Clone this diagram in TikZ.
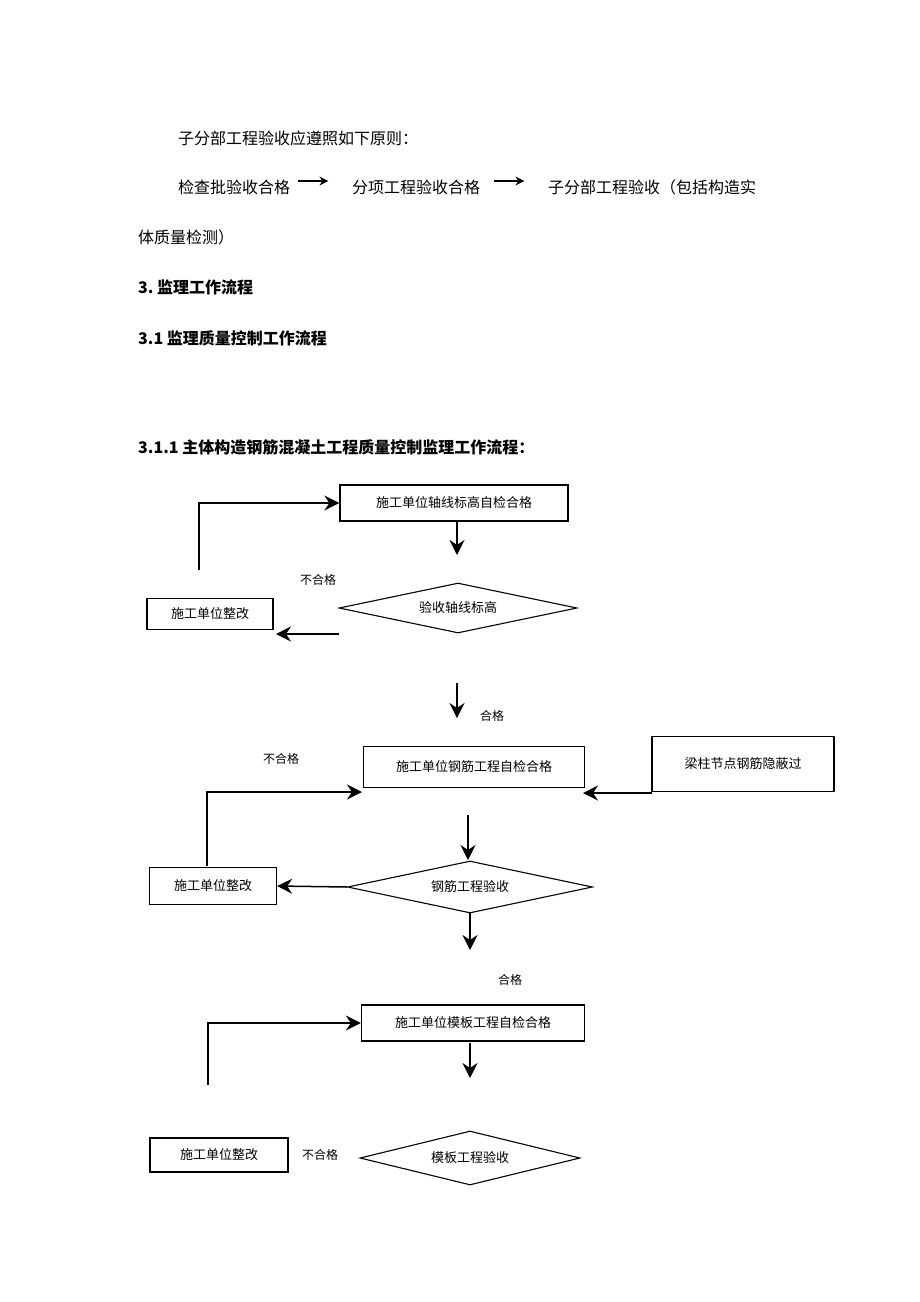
\documentclass[tikz,border=0pt]{standalone}
\usepackage{fontspec}
\setmainfont{Liberation Serif}
\newfontfamily\cjk{Noto Sans CJK SC}
\usetikzlibrary{arrows.meta}
\usetikzlibrary{shapes.geometric}

\tikzset{
	txt/.style={anchor=west,inner sep=0pt,font=\cjk\fontsize{16}{18}\selectfont},
	hd/.style={txt,font=\cjk\bfseries\fontsize{16}{18}\selectfont},
	box/.style={draw,line width=1.3pt,inner sep=0pt,font=\cjk\fontsize{13}{15}\selectfont},
	dia/.style={draw,line width=1.1pt,diamond,aspect=4.6,inner sep=0pt,font=\cjk\fontsize{13}{15}\selectfont},
	lbl/.style={inner sep=0pt,font=\cjk\fontsize{12}{14}\selectfont},
	arr/.style={-{Stealth[length=15pt,width=15pt,inset=5pt]},line width=1.5pt},
	sarr/.style={-{Stealth[length=9pt,width=9pt]},line width=1.5pt},
}

\begin{document}
\begin{tikzpicture}[x=1pt,y=-1pt]
	\useasboundingbox (0,0) rectangle (920,1302);
\node[txt] (t1) at (178,138) {子分部工程验收应遵照如下原则：};
\node[txt] (t2) at (178,187) {检查批验收合格};
\node[txt] (t3) at (352,187) {分项工程验收合格};
\node[txt] (t4) at (548,187) {子分部工程验收（包括构造实};
\draw[sarr] (t2.east) ++(8,-6) coordinate (a1) -- ++(30,0);
\draw[sarr] (t3.east) ++(14,-6) coordinate (a2) -- ++(30,0);
\node[txt] (t5) at (138,237) {体质量检测）};
\node[hd] (h1) at (138,287) {3.~监理工作流程};
\node[hd] (h2) at (138,338) {3.1 监理质量控制工作流程};
\node[hd] (h3) at (138,447) {3.1.1 主体构造钢筋混凝土工程质量控制监理工作流程：};
	% first stage
	\node[box,minimum width=228,minimum height=36] (b1) at (454,503) {施工单位轴线标高自检合格};
	\node[dia,minimum width=238,minimum height=50] (d1) at (458,608) {验收轴线标高};
	\node[box,minimum width=126,minimum height=31] (r1) at (210,614) {施工单位整改};
	\coordinate (c1) at (199,570);
	\draw[arr] (c1) |- (b1.west);
	\draw[arr] (457,521) -- (457,555);
	\draw[arr] (339,634) -- (276,634);
	\node[lbl] (n1) at (318,580) {不合格};
	\draw[arr] (457,683) -- (457,718);
	\node[lbl] (p1) at (492,716) {合格};
	% second stage
	\node[box,minimum width=221,minimum height=41] (b2) at (474,767) {施工单位钢筋工程自检合格};
	\node[box,minimum width=182,minimum height=55] (s2) at (743,764) {梁柱节点钢筋隐蔽过};
	\node[dia,minimum width=245,minimum height=52] (d2) at (470,887) {钢筋工程验收};
	\node[box,minimum width=127,minimum height=37] (r2) at (213,886) {施工单位整改};
	\node[lbl] (n2) at (281,759) {不合格};
	\coordinate (c2) at (207,866);
	\draw[arr] (c2) |- (362,792);
	\draw[arr] (652,793) -- (583,793);
	\draw[arr] (468,815) -- (468,860);
	\draw[arr] (d2.west) -- (r2.east);
	\draw[arr] (470,913) -- (470,950);
	\node[lbl] (p2) at (510,980) {合格};
	% third stage
	\node[box,minimum width=223,minimum height=36] (b3) at (473,1023) {施工单位模板工程自检合格};
	\coordinate (c3) at (208,1085);
	\draw[arr] (c3) |- (b3.west);
	\draw[arr] (470,1043) -- (470,1078);
	\node[box,minimum width=138,minimum height=34] (r3) at (219,1155) {施工单位整改};
	\node[lbl] (n3) at (320,1155) {不合格};
	\node[dia,minimum width=220,minimum height=54] (d3) at (470,1158) {模板工程验收};
\end{tikzpicture}
\end{document}
